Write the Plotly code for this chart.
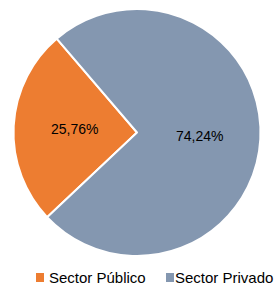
import math
import plotly.graph_objects as go

labels = ["Sector Público", "Sector Privado"]
values = [25.76, 74.24]
text_labels = ["25,76%", "74,24%"]
colors = ["#ED7D31", "#8497B0"]

W, H = 275, 287
ML, MR, MT, MB = 12, 13, 9, 31
PW, PH = W - ML - MR, H - MT - MB
ROTATION = 226.7
LABEL_FRAC = 0.51


def px_x(px):
    return (px - ML) / PW


def px_y(py):
    return (H - MB - py) / PH


fig = go.Figure(go.Pie(
    labels=labels,
    values=values,
    textinfo="none",
    sort=False,
    direction="clockwise",
    rotation=ROTATION,
    marker=dict(colors=colors, line=dict(color="white", width=2)),
    hoverinfo="label+percent",
    showlegend=False,
))

annotations = []

# slice labels placed at half radius along each slice's mid-angle (as in the original)
R = min(PW, PH) / 2
cx, cy = ML + PW / 2, MT + PH / 2
total = sum(values)
cum = 0.0
for v, t in zip(values, text_labels):
    mid = math.radians(ROTATION + 360 * (cum + v / 2) / total)
    cum += v
    lx = cx + LABEL_FRAC * R * math.sin(mid)
    ly = cy - LABEL_FRAC * R * math.cos(mid)
    annotations.append(dict(text=t, xref="paper", yref="paper",
                            x=px_x(lx), y=px_y(ly), xanchor="center", yanchor="middle",
                            showarrow=False,
                            font=dict(family="Liberation Sans, Arial", size=14, color="black")))

# manual legend (horizontal, bottom)
legend_items = [(labels[0], colors[0], 36, 49), (labels[1], colors[1], 166, 175)]
shapes = []
for name, col, sq_x, tx_x in legend_items:
    shapes.append(dict(type="rect", xref="paper", yref="paper",
                       x0=px_x(sq_x), x1=px_x(sq_x + 8),
                       y0=px_y(282), y1=px_y(273),
                       fillcolor=col, line=dict(width=0)))
    annotations.append(dict(text=name, xref="paper", yref="paper",
                            x=px_x(tx_x - 2), y=px_y(277), xanchor="left", yanchor="middle",
                            showarrow=False,
                            font=dict(family="Liberation Sans, Arial", size=15, color="black")))

fig.update_layout(
    width=W, height=H,
    margin=dict(l=ML, r=MR, t=MT, b=MB),
    paper_bgcolor="white",
    showlegend=False,
    shapes=shapes,
    annotations=annotations,
)

fig.write_html("out.html",
               config={"displayModeBar": False},
               post_script="document.body.style.margin='0';document.body.style.overflow='hidden';")
